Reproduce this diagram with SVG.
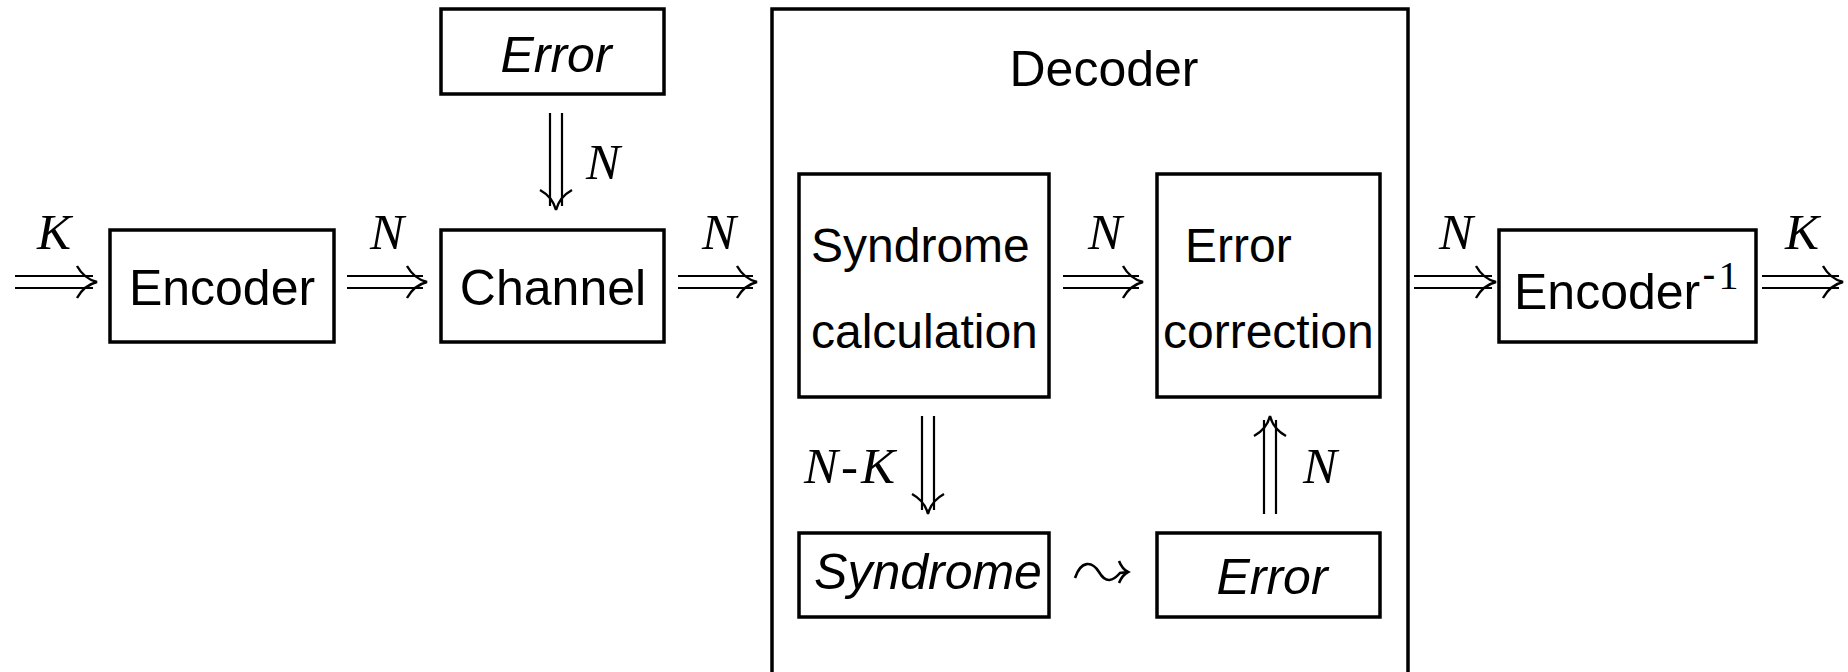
<svg xmlns="http://www.w3.org/2000/svg" xmlns:xlink="http://www.w3.org/1999/xlink" width="1848" height="672" viewBox="0 0 1848 672">
<style>
.box{fill:none;stroke:#000;stroke-width:3.5}
.sans{font-family:"Liberation Sans",Arial,sans-serif;font-size:50px;fill:#000}
.two{font-size:48px}
.it{font-style:italic}
.math{font-family:"Liberation Serif","Times New Roman",serif;font-style:italic;font-size:51px;fill:#000}
.dl{fill:none;stroke:#000;stroke-width:2.2}
</style>
<defs>
<path id="head" d="M-20,-16 C-15,-7 -8,-2 0,0 C-8,2 -15,7 -20,16" fill="none" stroke="#000" stroke-width="2.4"/>
</defs>
<rect width="1848" height="672" fill="#fff"/>

<g id="decoder">
<rect class="box" x="772" y="9" width="636" height="700"/>
<text class="sans" x="1104" y="86" text-anchor="middle">Decoder</text>
</g>
<g id="error-top">
<rect class="box" x="441" y="9" width="223" height="85"/>
<text class="sans it" x="556" y="72" text-anchor="middle">Error</text>
</g>
<g id="encoder">
<rect class="box" x="110" y="230" width="224" height="112"/>
<text class="sans" x="222" y="305" text-anchor="middle">Encoder</text>
</g>
<g id="channel">
<rect class="box" x="441" y="230" width="223" height="112"/>
<text class="sans" x="553" y="305" text-anchor="middle">Channel</text>
</g>
<g id="syndrome-calc">
<rect class="box" x="799" y="174" width="250" height="223"/>
<text class="sans two" x="811" y="262">Syndrome</text>
<text class="sans two" x="811" y="348">calculation</text>
</g>
<g id="error-correction">
<rect class="box" x="1157" y="174" width="223" height="223"/>
<text class="sans two" x="1185" y="262">Error</text>
<text class="sans two" x="1163" y="348">correction</text>
</g>
<g id="syndrome">
<rect class="box" x="799" y="533" width="250" height="84"/>
<text class="sans it" x="928" y="589" text-anchor="middle">Syndrome</text>
</g>
<g id="error-bottom">
<rect class="box" x="1157" y="533" width="223" height="84"/>
<text class="sans it" x="1272" y="594" text-anchor="middle">Error</text>
</g>
<g id="encoder-inv">
<rect class="box" x="1499" y="230" width="257" height="112"/>
<text class="sans" x="1514" y="309">Encoder<tspan font-size="40" y="288" dx="2">-</tspan><tspan font-family="'Liberation Serif',serif" font-size="40" y="289" dx="3">1</tspan></text>
</g>

<g id="connectors">
<path class="dl" d="M15,276 H93 M15,288 H93"/><use xlink:href="#head" href="#head" transform="translate(97,282)"/>
<path class="dl" d="M347,276 H423 M347,288 H423"/><use xlink:href="#head" href="#head" transform="translate(427,282)"/>
<path class="dl" d="M678,276 H753 M678,288 H753"/><use xlink:href="#head" href="#head" transform="translate(757,282)"/>
<path class="dl" d="M1063,276 H1139 M1063,288 H1139"/><use xlink:href="#head" href="#head" transform="translate(1143,282)"/>
<path class="dl" d="M1414,276 H1492 M1414,288 H1492"/><use xlink:href="#head" href="#head" transform="translate(1496,282)"/>
<path class="dl" d="M1762,276 H1839 M1762,288 H1839"/><use xlink:href="#head" href="#head" transform="translate(1843,282)"/>
<path class="dl" d="M550,113 V206 M562,113 V206"/><use xlink:href="#head" href="#head" transform="translate(556,210) rotate(90)"/>
<path class="dl" d="M922,416 V510 M934,416 V510"/><use xlink:href="#head" href="#head" transform="translate(928,514) rotate(90)"/>
<path class="dl" d="M1264,514 V420 M1276,514 V420"/><use xlink:href="#head" href="#head" transform="translate(1270,416) rotate(-90)"/>
<path d="M1075,578 C1081,560 1092,561 1099,572 C1106,584 1113,581 1120,573 L1128,572" fill="none" stroke="#000" stroke-width="2.6"/>
<path d="M1119,561 C1121,566 1124,570 1128,572 C1124,574 1121,578 1119,583" fill="none" stroke="#000" stroke-width="2.6"/>
<text class="math" x="54" y="249" text-anchor="middle">K</text>
<text class="math" x="387" y="249" text-anchor="middle">N</text>
<text class="math" x="719" y="249" text-anchor="middle">N</text>
<text class="math" x="1105" y="249" text-anchor="middle">N</text>
<text class="math" x="1456" y="249" text-anchor="middle">N</text>
<text class="math" x="1802" y="249" text-anchor="middle">K</text>
<text class="math" x="603" y="179" text-anchor="middle">N</text>
<text class="math" x="804" y="483">N<tspan font-style="normal" dx="3">-</tspan><tspan dx="3">K</tspan></text>
<text class="math" x="1320" y="483" text-anchor="middle">N</text>
</g>
</svg>
